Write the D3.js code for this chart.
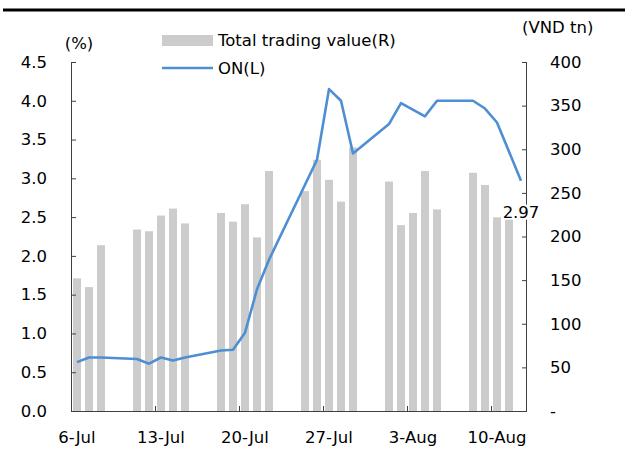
<!DOCTYPE html>
<html>
<head>
<meta charset="utf-8">
<script src="https://cdn.jsdelivr.net/npm/d3@7"></script>
<style>
body { margin: 0; background: #fff; }
text { font-family: "DejaVu Sans", Verdana, sans-serif; font-size: 16.5px; fill: #000; }
.axis path, .axis line { stroke: #404040; }
</style>
</head>
<body>
<div id="content"></div>
<script>
// total trading value (VND tn), right axis
var tradeDates = ["2022-07-06", "2022-07-07", "2022-07-08",
    "2022-07-11", "2022-07-12", "2022-07-13", "2022-07-14", "2022-07-15",
    "2022-07-18", "2022-07-19", "2022-07-20", "2022-07-21", "2022-07-22",
    "2022-07-25", "2022-07-26", "2022-07-27", "2022-07-28", "2022-07-29",
    "2022-08-01", "2022-08-02", "2022-08-03", "2022-08-04", "2022-08-05",
    "2022-08-08", "2022-08-09", "2022-08-10", "2022-08-11"];
var tradeValues = [152, 142, 190,
    208, 206, 224, 232, 215,
    227, 217, 237, 199, 275,
    252, 288, 265, 240, 302,
    263, 213, 227, 275, 231,
    273, 259, 222, 227];

// overnight rate (%), left axis
var onDates = ["2022-07-06", "2022-07-07", "2022-07-08",
    "2022-07-11", "2022-07-12", "2022-07-13", "2022-07-14", "2022-07-15",
    "2022-07-18", "2022-07-19", "2022-07-20", "2022-07-21", "2022-07-22",
    "2022-07-26", "2022-07-27", "2022-07-28", "2022-07-29",
    "2022-08-01", "2022-08-02", "2022-08-04", "2022-08-05",
    "2022-08-08", "2022-08-09", "2022-08-10", "2022-08-12"];
var onValues = [0.63, 0.69, 0.69,
    0.67, 0.61, 0.69, 0.65, 0.69,
    0.78, 0.79, 1.01, 1.57, 1.95,
    3.24, 4.15, 4.00, 3.32,
    3.70, 3.97, 3.80, 4.00,
    4.00, 3.90, 3.72, 2.97];

var leftTicks = [0, 0.5, 1, 1.5, 2, 2.5, 3, 3.5, 4, 4.5];
var rightTicks = [0, 50, 100, 150, 200, 250, 300, 350, 400];
var xLabelDates = ["2022-07-06", "2022-07-13", "2022-07-20", "2022-07-27", "2022-08-03", "2022-08-10"];
var xLabels = ["6-Jul", "13-Jul", "20-Jul", "27-Jul", "3-Aug", "10-Aug"];
var firstDay = "2022-07-06", lastDay = "2022-08-12";

var parse = d3.timeParse("%Y-%m-%d");

var W = 625, H = 449;
var margin = { top: 62, right: 98, bottom: 38, left: 71 },
    w = W - margin.left - margin.right,
    h = H - margin.top - margin.bottom;

var days = d3.timeDay.range(parse(firstDay), d3.timeDay.offset(parse(lastDay), 1));

var xScale = d3.scaleBand()
    .domain(days.map(function(d) { return +d; }))
    .range([0, w])
    .paddingInner(1 / 3)
    .paddingOuter(1 / 6);
var step = xScale.step(),
    bw = xScale.bandwidth();

function xMid(s) { return xScale(+parse(s)) + bw / 2; }

var yLeft = d3.scaleLinear().domain([0, 4.5]).range([h, 0]),
    yRight = d3.scaleLinear().domain([0, 400]).range([h, 0]);

var svg = d3.select("#content").append("svg")
    .attr("width", W)
    .attr("height", H);

// heavy rule across the top
svg.append("line")
    .attr("x1", 3).attr("x2", W)
    .attr("y1", 10).attr("y2", 10)
    .style("stroke", "#000")
    .style("stroke-width", 3);

var g = svg.append("g")
    .attr("transform", "translate(" + margin.left + "," + margin.top + ")");

// bars
g.selectAll(".bar")
    .data(tradeDates)
    .enter()
    .append("rect")
    .attr("class", "bar")
    .attr("x", function(d) { return xScale(+parse(d)); })
    .attr("width", bw)
    .attr("y", function(d, i) { return yRight(tradeValues[i]); })
    .attr("height", function(d, i) { return h - yRight(tradeValues[i]); })
    .style("fill", "#cccccc");

// axes
var leftAxis = d3.axisLeft(yLeft)
    .tickValues(leftTicks)
    .tickSize(-5)
    .tickPadding(24)
    .tickFormat(d3.format(".1f"));

g.append("g")
    .attr("class", "axis")
    .call(leftAxis)
    .call(function(a) { a.select(".domain").attr("d", "M0.5," + h + "V0"); });

var rightAxis = d3.axisRight(yRight)
    .tickValues(rightTicks)
    .tickSize(-5)
    .tickPadding(23)
    .tickFormat(function(d) { return d === 0 ? "-" : d; });

g.append("g")
    .attr("class", "axis")
    .attr("transform", "translate(" + w + ",0)")
    .call(rightAxis)
    .call(function(a) { a.select(".domain").attr("d", "M-0.5," + h + "V0"); });

g.selectAll(".axis text").style("font-size", "16.5px").style("fill", "#000");

// x axis: ticks on week boundaries, labels on the day
var xg = g.append("g").attr("class", "axis");
xg.append("line")
    .attr("x1", 0).attr("x2", w)
    .attr("y1", h + 0.5).attr("y2", h + 0.5);
xg.selectAll(".xtick")
    .data(xLabelDates.slice(1))
    .enter()
    .append("line")
    .attr("class", "xtick")
    .attr("x1", function(d) { return Math.round(xScale(+parse(d)) - (step - bw) / 2) + 0.5; })
    .attr("x2", function(d) { return Math.round(xScale(+parse(d)) - (step - bw) / 2) + 0.5; })
    .attr("y1", h)
    .attr("y2", h - 5);
xg.selectAll(".xlab")
    .data(xLabelDates)
    .enter()
    .append("text")
    .attr("class", "xlab")
    .attr("x", function(d) { return xMid(d); })
    .attr("y", h + 32)
    .attr("text-anchor", "middle")
    .text(function(d, i) { return xLabels[i]; });

// ON line
var line = d3.line()
    .x(function(d) { return xMid(d); })
    .y(function(d, i) { return yLeft(onValues[i]); });

g.append("path")
    .datum(onDates)
    .attr("d", line)
    .style("fill", "none")
    .style("stroke", "#4e8ed2")
    .style("stroke-width", 2.6)
    .style("stroke-linejoin", "round");

// last value label
var lastX = xMid(onDates[onDates.length - 1]),
    lastY = yLeft(onValues[onValues.length - 1]);
var lab = g.append("g");
var labText = lab.append("text")
    .attr("x", lastX)
    .attr("y", lastY + 37)
    .attr("text-anchor", "middle")
    .text(d3.format(".2f")(onValues[onValues.length - 1]));
var bb = labText.node().getBBox();
lab.insert("rect", "text")
    .attr("x", bb.x)
    .attr("y", bb.y + 2)
    .attr("width", bb.width)
    .attr("height", bb.height - 4)
    .style("fill", "#fff");

// unit labels
svg.append("text")
    .attr("x", 79)
    .attr("y", 49)
    .attr("text-anchor", "middle")
    .text("(%)");

svg.append("text")
    .attr("x", 522)
    .attr("y", 33)
    .text("(VND tn)");

// legend
var legend = svg.append("g").attr("transform", "translate(162,0)");
legend.append("rect")
    .attr("x", 0).attr("y", 35)
    .attr("width", 51).attr("height", 11)
    .style("fill", "#cccccc");
legend.append("text")
    .attr("x", 56).attr("y", 46)
    .text("Total trading value(R)");
legend.append("line")
    .attr("x1", 0).attr("x2", 51)
    .attr("y1", 68).attr("y2", 68)
    .style("stroke", "#4e8ed2")
    .style("stroke-width", 2.6);
legend.append("text")
    .attr("x", 56).attr("y", 74)
    .text("ON(L)");
</script>
</body>
</html>
